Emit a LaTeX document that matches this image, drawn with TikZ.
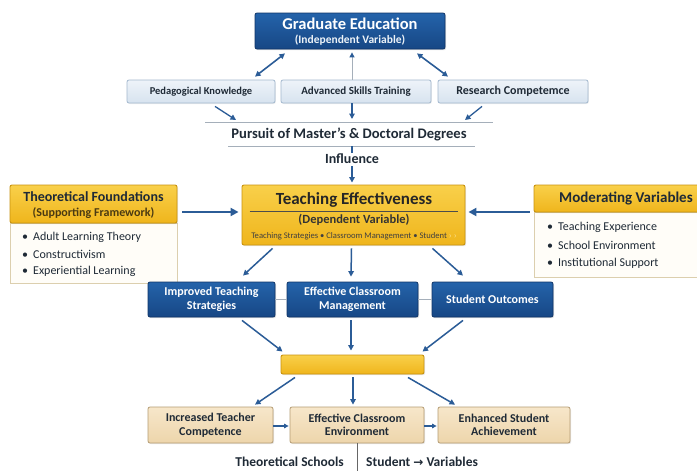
\documentclass[tikz,border=0pt]{standalone}
\usepackage{fontspec}
\setmainfont{Carlito}
\newfontfamily\symfont{DejaVu Sans}
\usetikzlibrary{arrows.meta,calc,shadows}

\definecolor{navytop}{HTML}{2463AA}
\definecolor{navybot}{HTML}{174785}
\definecolor{navyedge}{HTML}{0F3467}
\definecolor{goldtop}{HTML}{F9D04A}
\definecolor{goldbot}{HTML}{EFB51C}
\definecolor{goldedge}{HTML}{C9930F}
\definecolor{skytop}{HTML}{EEF3F9}
\definecolor{skybot}{HTML}{D7E3EF}
\definecolor{skyedge}{HTML}{A3B8CE}
\definecolor{tantop}{HTML}{F7E7CA}
\definecolor{tanbot}{HTML}{EDD5AB}
\definecolor{tanedge}{HTML}{B59C74}
\definecolor{paneledge}{HTML}{DCCFAE}
\definecolor{panelfill}{HTML}{FFFDF8}
\definecolor{arrowblue}{HTML}{2B5C97}
\definecolor{rule}{HTML}{A5AFBA}
\definecolor{ink}{HTML}{1F2A36}
\definecolor{brownink}{HTML}{4A3A12}

\newcommand\fsz[2]{\fontsize{#1}{#2}\selectfont}

\tikzset{
  box/.style={rectangle, rounded corners=2pt, inner sep=0pt, align=center, font=\bfseries},
  navybox/.style={box, draw=navyedge, line width=0.8pt, top color=navytop, bottom color=navybot,
    text=white, drop shadow={opacity=0.25, shadow xshift=1pt, shadow yshift=-1.2pt}},
  skybox/.style={box, draw=skyedge, line width=0.8pt, top color=skytop, bottom color=skybot,
    text=ink, drop shadow={opacity=0.12, shadow xshift=0.8pt, shadow yshift=-1pt}},
  goldbox/.style={box, draw=goldedge, line width=0.9pt, top color=goldtop, bottom color=goldbot,
    text=ink, drop shadow={opacity=0.2, shadow xshift=1pt, shadow yshift=-1.2pt}},
  tanbox/.style={box, draw=tanedge, line width=0.8pt, top color=tantop, bottom color=tanbot,
    text=ink, drop shadow={opacity=0.18, shadow xshift=1pt, shadow yshift=-1.2pt}},
  panel/.style={rectangle, inner sep=0pt, draw=paneledge, line width=0.8pt, fill=panelfill,
    drop shadow={opacity=0.1, shadow xshift=0.8pt, shadow yshift=-1pt}},
  arr/.style={draw=arrowblue, line width=1.5pt, -{Triangle[length=5.5pt,width=5.5pt]}},
  dblarr/.style={draw=arrowblue, line width=1.6pt,
    {Triangle[length=5.5pt,width=5.5pt]}-{Triangle[length=5.5pt,width=5.5pt]}},
  thinarr/.style={draw=rule, line width=1pt, -{Triangle[length=5pt,width=5pt,color=arrowblue]}},
  hline/.style={draw=rule, line width=1pt},
  plain/.style={inner sep=0pt, text=ink, font=\bfseries},
  bullet/.style={inner sep=0pt, anchor=west, text=ink, font=\fsz{12pt}{14pt}},
  twoline/.style={font=\bfseries\fsz{12pt}{13.5pt}},
}

\begin{document}
\begin{tikzpicture}[x=1pt, y=-1pt]
\useasboundingbox (0,0) rectangle (697,471);
\clip (0,0) rectangle (697,471);
\fill[white] (0,0) rectangle (697,471);

% ---------- top: independent variable ----------
\node[navybox, minimum width=190pt, minimum height=36pt] (ge) at (350,31) {};
\node[plain, text=white] (getitle) at (350,24) {\fsz{16.5pt}{17pt}Graduate Education};
\node[plain, text=white!92!navytop] (gesub) at (350,40.5) {\fsz{11.5pt}{12pt}(Independent Variable)};

\node[skybox, minimum width=148pt, minimum height=23pt] (pk) at (201,91.5)
  {\fsz{10.5pt}{12pt}Pedagogical Knowledge};
\node[skybox, minimum width=150pt, minimum height=23pt] (as) at (356,91.5)
  {\fsz{11pt}{12pt}Advanced Skills Training};
\node[skybox, minimum width=150pt, minimum height=23pt] (rc) at (513,91.5)
  {\fsz{12pt}{12pt}Research Competemce};

\draw[dblarr] ($(pk.north)+(54,-3)$) -- ($(ge.south)+(-65,4)$);
\draw[dblarr] ($(rc.north)+(-65,-3)$) -- ($(ge.south)+(67,4)$);
\draw[thinarr] ($(as.north)+(-4,0)$) -- ($(ge.south)+(2,3)$);

% ---------- degrees band ----------
\coordinate (l1w) at (205,122);
\coordinate (l1e) at (493,122);
\coordinate (l2w) at (228,146);
\coordinate (l2e) at (475,146);
\draw[hline] (l1w) -- (l1e);
\draw[hline] (l2w) -- (l2e);
\node[plain] (pursuit) at (349,134) {\fsz{14.6pt}{16pt}Pursuit of Master’s \& Doctoral Degrees};

\coordinate (l1a) at (236,120);
\coordinate (l1c) at (352,119);
\coordinate (l1b) at (465,120);
\draw[arr, line width=1.3pt] ($(pk.south)+(14,3)$) -- (l1a);
\draw[arr, line width=1.3pt] ($(as.south)+(-4,0)$) -- (l1c);
\draw[arr, line width=1.3pt] ($(rc.south)+(-31,3)$) -- (l1b);

\node[plain] (influence) at (352,159) {\fsz{14pt}{15pt}Influence};
\coordinate (l2c) at (352,146);
\draw[draw=arrowblue, line width=1.5pt] (l2c) -- ($(influence.north)+(0,-1)$);

% ---------- dependent variable ----------
\node[goldbox, minimum width=223pt, minimum height=60pt] (te) at (353.5,215) {};
\node[plain, text=black!85] (tetitle) at (354,200) {\fsz{17pt}{18pt}Teaching Effectiveness};
\draw[draw=black!70, line width=0.8pt] ($(te.west)+(8,-4)$) -- ($(te.east)+(-7,-4)$);
\node[plain, text=black!80] (tesub) at (354,220) {\fsz{12.5pt}{14pt}(Dependent Variable)};
\node[plain, text=black!75, font=\mdseries] (tesmall) at (354,236)
  {\fsz{8.6pt}{9pt}Teaching Strategies • Classroom Management • Student \textcolor{goldtop!55!white}{› ›}};

\draw[arr] ($(influence.south)+(0,2)$) -- ($(te.north)+(-1.5,-2)$);

% ---------- supporting framework ----------
\node[panel, minimum width=167pt, minimum height=60pt] (tfb) at (93.5,253) {};
\node[goldbox, minimum width=167pt, minimum height=38pt] (tfh) at (93.5,204) {};
\node[plain] (tftitle) at (93.5,197) {\fsz{14pt}{15pt}Theoretical Foundations};
\node[plain, text=brownink] (tfsub) at (93.5,213) {\fsz{12pt}{13pt}(Supporting Framework)};
\node[bullet] (tf1) at (22,237) {•\hspace{5pt}Adult Learning Theory};
\node[bullet] (tf2) at (22,254) {•\hspace{5pt}Constructivism};
\node[bullet] (tf3) at (22,271) {•\hspace{5pt}Experiential Learning};

\draw[arr, line width=2.4pt, -{Triangle[length=8pt,width=8pt]}] ($(tfh.east)+(5,8)$) -- ($(te.west)+(-3,-3)$);

% ---------- moderating variables ----------
\node[panel, minimum width=190pt, minimum height=65pt] (mvb) at (629,244.5) {};
\node[goldbox, minimum width=190pt, minimum height=27pt] (mvh) at (629,198.5)
  {\hspace*{-6pt}\fsz{15pt}{16pt}Moderating Variables};
\node[bullet] (mv1) at (547,227) {•\hspace{5pt}Teaching Experience};
\node[bullet] (mv2) at (547,245) {•\hspace{5pt}School Environment};
\node[bullet] (mv3) at (547,263) {•\hspace{5pt}Institutional Support};

\draw[arr, line width=2.4pt, -{Triangle[length=8pt,width=8pt]}] ($(mvh.west)+(-4,13.5)$) -- ($(te.east)+(3,-3)$);

% ---------- effects ----------
\node[navybox, twoline, minimum width=127pt, minimum height=35pt] (its) at (211.5,299.5)
  {Improved Teaching\\Strategies};
\node[navybox, twoline, minimum width=131pt, minimum height=35pt] (ecm) at (352.5,299.5)
  {Effective Classroom\\Management};
\node[navybox, twoline, minimum width=121pt, minimum height=35pt] (so) at (492.5,299.5)
  {Student Outcomes};

\draw[hline] (its.east) -- (ecm.west);
\draw[hline] (ecm.east) -- (so.west);

\draw[arr] ($(te.south)+(-81,3)$) -- ($(its.north)+(31.5,-6)$);
\draw[arr] ($(te.south)+(-2,3)$) -- ($(ecm.north)+(-1.5,-5)$);
\draw[arr] ($(te.south)+(79,3)$) -- ($(so.north)+(-29.5,-6)$);

% ---------- synthesis bar ----------
\node[goldbox, minimum width=143pt, minimum height=19pt] (bar) at (352.5,364.5) {};

\draw[arr] ($(its.south)+(30.5,3)$) -- ($(bar.north)+(-70,-3)$);
\draw[arr] ($(ecm.south)+(-1.5,3)$) -- ($(bar.north)+(-1.5,-4)$);
\draw[arr] ($(so.south)+(-29.5,3)$) -- ($(bar.north)+(70,-3)$);

% ---------- results ----------
\node[tanbox, twoline, minimum width=125pt, minimum height=36pt] (itc) at (210.5,425)
  {Increased Teacher\\Competence};
\node[tanbox, twoline, minimum width=134pt, minimum height=36pt] (ece) at (357,425)
  {Effective Classroom\\Environment};
\node[tanbox, twoline, minimum width=132pt, minimum height=36pt] (esa) at (504,425)
  {Enhanced Student\\Achievement};

\draw[arr] ($(bar.south)+(-57.5,3)$) -- ($(itc.north)+(44.5,-2)$);
\draw[arr] ($(bar.south)+(0.5,3)$) -- ($(ece.north)+(-4,-2)$);
\draw[arr] ($(bar.south)+(55.5,3)$) -- ($(esa.north)+(-49,-2)$);

\draw[arr, line width=1.2pt, -{Triangle[length=4.5pt,width=4.5pt]}] ($(itc.east)+(0,1)$) -- ($(ece.west)+(-1,1)$);
\draw[arr, line width=1.2pt, -{Triangle[length=4.5pt,width=4.5pt]}] ($(ece.east)+(0,1)$) -- ($(esa.west)+(-1,1)$);

% ---------- footer ----------
\coordinate (foot) at (357,471);
\draw[draw=black!60, line width=1pt] (ece.south) -- (foot);
\node[plain, anchor=east] (schools) at (344,462) {\fsz{13.5pt}{15pt}Theoretical Schools};
\node[plain, anchor=west] (studvar) at (366,462)
  {\fsz{13.5pt}{15pt}Student {\symfont\bfseries\fsz{12pt}{13pt}\raisebox{0.5pt}{→}} Variables};
\end{tikzpicture}
\end{document}
